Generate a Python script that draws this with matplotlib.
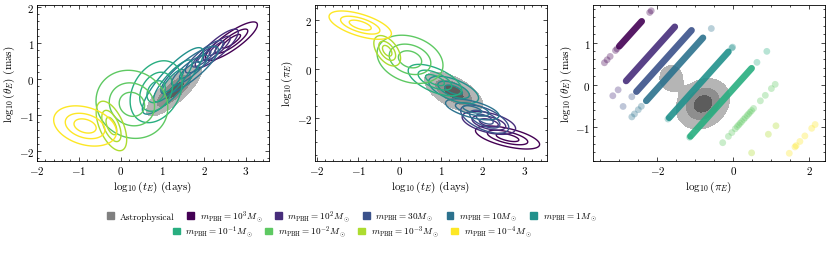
import numpy as np
import matplotlib
matplotlib.use('Agg')
import matplotlib.pyplot as plt
from matplotlib.patches import Patch
from matplotlib.ticker import AutoMinorLocator

plt.rcParams['font.family'] = 'serif'
plt.rcParams['font.serif'] = ['cmr10', 'DejaVu Serif']
plt.rcParams['mathtext.fontset'] = 'cm'
plt.rcParams['axes.formatter.use_mathtext'] = True
plt.rcParams['font.size'] = 8

# PBH masses (solar masses) and legend labels
masses = [1e3, 1e2, 30, 10, 1, 1e-1, 1e-2, 1e-3, 1e-4]
mass_labels = [r'$m_{\rm PBH} = 10^3 M_\odot$', r'$m_{\rm PBH} = 10^2 M_\odot$',
               r'$m_{\rm PBH} = 30 M_\odot$', r'$m_{\rm PBH} = 10 M_\odot$',
               r'$m_{\rm PBH} = 1 M_\odot$', r'$m_{\rm PBH} = 10^{-1} M_\odot$',
               r'$m_{\rm PBH} = 10^{-2} M_\odot$', r'$m_{\rm PBH} = 10^{-3} M_\odot$',
               r'$m_{\rm PBH} = 10^{-4} M_\odot$']

# panel 1: log tE vs log thetaE, gaussian summary per mass (cx, cy, sx, sy, rho)
tE_theta_pbh = [(2.65, 1.05, 0.29, 0.25, 0.85),
                (2.30, 0.85, 0.24, 0.25, 0.85),
                (2.00, 0.62, 0.21, 0.21, 0.85),
                (1.65, 0.25, 0.32, 0.31, 0.85),
                (1.25, -0.05, 0.34, 0.43, 0.85),
                (0.85, -0.35, 0.29, 0.40, 0.30),
                (0.27, -0.70, 0.40, 0.44, -0.10),
                (-0.22, -1.30, 0.17, 0.32, -0.55),
                (-0.85, -1.30, 0.35, 0.26, -0.30)]
tE_theta_astro = [(1.28, -0.32, 0.32, 0.34, 0.80, 1.0)]

# panel 2: log tE vs log piE
tE_pi_pbh = [(2.60, -2.80, 0.36, 0.22, -0.60),
             (2.15, -2.20, 0.30, 0.22, -0.50),
             (2.05, -2.05, 0.27, 0.27, -0.60),
             (1.75, -1.65, 0.30, 0.20, -0.60),
             (1.30, -0.85, 0.28, 0.26, -0.60),
             (0.85, -0.45, 0.30, 0.30, -0.60),
             (0.25, 0.40, 0.37, 0.46, -0.25),
             (-0.30, 0.75, 0.15, 0.29, -0.50),
             (-0.95, 1.80, 0.35, 0.27, -0.60)]
tE_pi_astro = [(1.30, -0.95, 0.34, 0.40, -0.60, 1.0)]

# panel 3: log piE vs log thetaE, astrophysical density (cx, cy, sx, sy, rho, weight)
pi_theta_astro = [(-0.80, -0.45, 0.34, 0.29, 0.20, 1.0),
                  (-1.64, 0.16, 0.20, 0.20, 0.0, 0.35)]

# panel 3 PBH samples: dense band (piE start, end) and isolated points
pi_dense = [(-3.00, -2.41), (-2.82, -1.54), (-2.55, -1.10), (-2.29, -0.80),
            (-1.69, -0.13), (-1.13, 0.48), None, None, None]
pi_sparse = [[-3.39, -3.32, -3.24, -3.10, -3.06, -2.20, -2.16],
             [-3.17, -3.03],
             [-2.90, -2.67],
             [-2.67, -2.60, -2.50, -2.42, -0.58],
             [-1.72, -0.04, -0.02],
             [-1.15, 0.62, 0.88],
             [-0.28, -0.13, -0.04, 0.05, 0.10, 0.14, 0.18, 0.22, 0.27, 0.31, 0.36,
              0.40, 0.44, 0.48, 0.53, 0.71, 0.84, 1.00, 1.10],
             [0.48, 0.92, 1.12],
             [1.47, 1.62, 1.65, 1.75, 1.88, 2.06, 2.15]]

colors = [plt.get_cmap('viridis')(v) for v in np.linspace(0, 1, len(masses))]
astro_colors = ['#b5b5b5', '#8e8e8e', '#5c5c5c']


def density(X, Y, comps):
    Z = np.zeros_like(X)
    for c in comps:
        cx, cy, sx, sy, rho = c[:5]
        w = c[5] if len(c) > 5 else 1.0
        dx = (X - cx) / sx
        dy = (Y - cy) / sy
        q = (dx**2 - 2 * rho * dx * dy + dy**2) / (1 - rho**2)
        Z += w * np.exp(-0.5 * q)
    return Z


def style_ax(ax):
    ax.tick_params(which='both', direction='in', top=True, right=True, pad=2)
    ax.tick_params(which='major', length=3, width=0.5)
    ax.tick_params(which='minor', length=1.6, width=0.5)
    ax.xaxis.set_minor_locator(AutoMinorLocator())
    ax.yaxis.set_minor_locator(AutoMinorLocator())
    ax.xaxis.labelpad = 2
    ax.yaxis.labelpad = 1
    for s in ax.spines.values():
        s.set_linewidth(0.6)


def contour_panel(ax, xlim, ylim, pbh, astro):
    x = np.linspace(xlim[0], xlim[1], 300)
    y = np.linspace(ylim[0], ylim[1], 300)
    X, Y = np.meshgrid(x, y)
    Za = density(X, Y, astro)
    m = Za.max()
    ax.contourf(X, Y, Za, levels=[0.12 * m, 0.45 * m, 0.8 * m, 1.01 * m],
                colors=astro_colors, zorder=1)
    for p, col in zip(pbh, colors):
        Z = density(X, Y, [p])
        ax.contour(X, Y, Z, levels=[0.1, 0.4, 0.75], colors=[col], linewidths=1.0, zorder=2)
    ax.set_xlim(xlim)
    ax.set_ylim(ylim)


fig = plt.figure(figsize=(8.3, 2.55), dpi=100)
ax1 = fig.add_axes([0.0446, 0.365, 0.2795, 0.612])
ax2 = fig.add_axes([0.3795, 0.365, 0.2795, 0.612])
ax3 = fig.add_axes([0.7145, 0.365, 0.2795, 0.612])

contour_panel(ax1, (-2.0, 3.55), (-2.27, 2.06), tE_theta_pbh, tE_theta_astro)
ax1.set_xlabel(r'$\log_{10}(t_E)$ (days)')
ax1.set_ylabel(r'$\log_{10}(\theta_E)$ (mas)')
ax1.set_yticks([-2, -1, 0, 1, 2])

contour_panel(ax2, (-2.04, 3.55), (-3.76, 2.63), tE_pi_pbh, tE_pi_astro)
ax2.set_xlabel(r'$\log_{10}(t_E)$ (days)')
ax2.set_ylabel(r'$\log_{10}(\pi_E)$')
ax2.set_yticks([-2, 0, 2])

# panel 3
xlim3, ylim3 = (-3.69, 2.41), (-1.80, 1.89)
x = np.linspace(xlim3[0], xlim3[1], 300)
y = np.linspace(ylim3[0], ylim3[1], 300)
X, Y = np.meshgrid(x, y)
Za = density(X, Y, pi_theta_astro)
m = Za.max()
ax3.contourf(X, Y, Za, levels=[0.12 * m, 0.45 * m, 0.8 * m, 1.01 * m],
             colors=astro_colors, zorder=1)
kappa = 8.144
for mass, col, dense, sparse in zip(masses, colors, pi_dense, pi_sparse):
    off = np.log10(kappa * mass)
    if dense is not None:
        px = np.array(dense)
        ax3.plot(px, px + off, color=col, lw=4.8, alpha=0.9,
                 solid_capstyle='round', zorder=3)
    sx = np.array(sparse)
    ax3.scatter(sx, sx + off, s=24, color=col, alpha=0.33, edgecolors='none', zorder=3)
ax3.set_xlim(xlim3)
ax3.set_ylim(ylim3)
ax3.set_xlabel(r'$\log_{10}(\pi_E)$')
ax3.set_ylabel(r'$\log_{10}(\theta_E)$ (mas)')
ax3.set_xticks([-2, 0, 2])
ax3.set_yticks([-1, 0, 1])

for ax in (ax1, ax2, ax3):
    style_ax(ax)

handles = [Patch(color='#808080', label='Astrophysical')]
handles += [Patch(color=c, label=l) for c, l in zip(colors, mass_labels)]
kw = dict(frameon=False, handlelength=0.75, handleheight=0.75, handletextpad=0.6,
          columnspacing=1.4, fontsize=6.6, borderpad=0.1)
fig.legend(handles=handles[:6], loc='center', bbox_to_anchor=(0.424, 0.148), ncol=6, **kw)
fig.legend(handles=handles[6:], loc='center', bbox_to_anchor=(0.424, 0.088), ncol=4, **kw)

fig.savefig('out.png', dpi=100)
